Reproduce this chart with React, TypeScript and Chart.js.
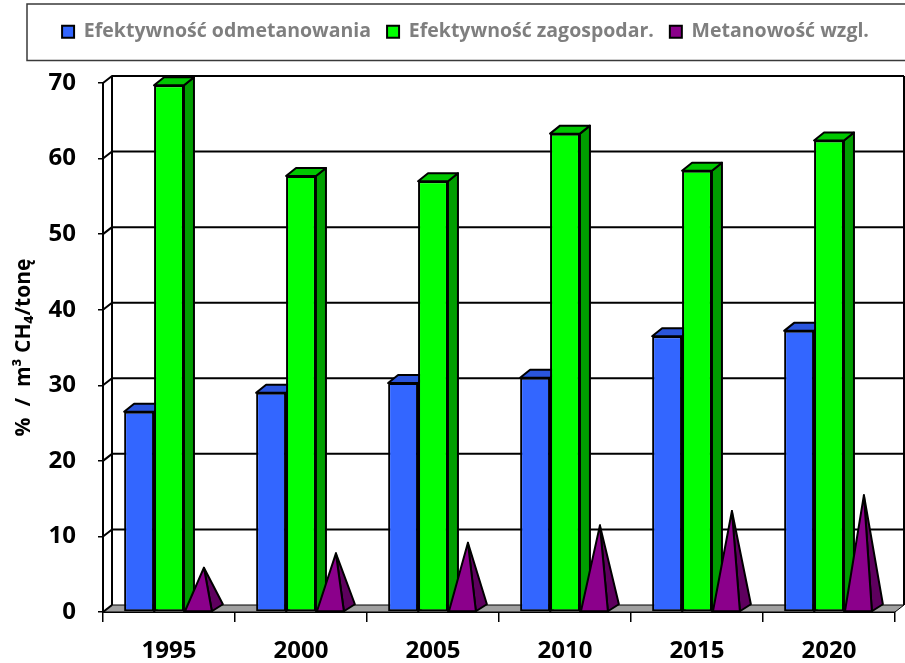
import React, { useEffect, useRef } from 'react';
import { Chart, registerables } from 'chart.js';

Chart.register(...registerables);

// ---- data ----
const years = ['1995', '2000', '2005', '2010', '2015', '2020'];
const seriesNames = ['Efektywność odmetanowania', 'Efektywność zagospodar.', 'Metanowość wzgl.'];
const efOdmetanowania = [26.5, 29.0, 30.3, 31.0, 36.5, 37.2];
const efZagospodar = [69.7, 57.7, 57.0, 63.3, 58.4, 62.4];
const metanowosc = [5.4, 7.3, 8.7, 11.0, 12.9, 15.0];
const yMin = 0;
const yMax = 70;
const yStep = 10;
const yTitle = '%  /  m³ CH₄/tonę';

const FONT = '"Open Sans", "DejaVu Sans", sans-serif';
const NARROW = '"Liberation Sans Narrow", "Open Sans", "DejaVu Sans", sans-serif';

// depth offsets of the pseudo 3-D look
const BAR_DX = 10, BAR_DY = -8;
const WALL_DX = 9, WALL_DY = -7;
const PYR_DX = 11, PYR_DY = -7;

const faceColors = [
  { top: '#2a55dd', side: '#2244b8' },
  { top: '#00c800', side: '#009e00' },
  { front: '#8b008b', side: '#5e005e' },
];

function poly(ctx: CanvasRenderingContext2D, pts: number[][], fill: string) {
  ctx.beginPath();
  ctx.moveTo(pts[0][0], pts[0][1]);
  for (let i = 1; i < pts.length; i++) ctx.lineTo(pts[i][0], pts[i][1]);
  ctx.closePath();
  ctx.fillStyle = fill;
  ctx.fill();
  ctx.stroke();
}

const threeDPlugin = {
  id: 'threeD',
  beforeDatasetsDraw(chart: any) {
    const { ctx, chartArea: a, scales } = chart;
    const y = scales.y;
    ctx.save();
    ctx.strokeStyle = '#000';
    ctx.lineJoin = 'round';
    // floor
    ctx.lineWidth = 1;
    poly(ctx, [
      [a.left, a.bottom], [a.right, a.bottom],
      [a.right + WALL_DX, a.bottom + WALL_DY], [a.left + WALL_DX, a.bottom + WALL_DY],
    ], '#a0a0a0');
    // back wall grid lines and left wall connectors
    ctx.lineWidth = 2;
    y.ticks.forEach((t: any) => {
      const py = y.getPixelForValue(t.value);
      ctx.beginPath();
      ctx.moveTo(a.left, py);
      ctx.lineTo(a.left + WALL_DX, py + WALL_DY);
      if (t.value !== yMin) ctx.lineTo(a.right + WALL_DX, py + WALL_DY);
      ctx.stroke();
    });
    ctx.beginPath();
    ctx.moveTo(a.left + WALL_DX, a.bottom + WALL_DY);
    ctx.lineTo(a.left + WALL_DX, a.top + WALL_DY);
    ctx.stroke();
    ctx.beginPath();
    ctx.moveTo(a.right + WALL_DX, a.bottom + WALL_DY);
    ctx.lineTo(a.right + WALL_DX, a.top + WALL_DY);
    ctx.stroke();

    // datasets, drawn in series order so that the nearer faces overlap correctly
    for (let idx = 0; idx < 2; idx++) {
      const meta = chart.getDatasetMeta(idx);
      if (!meta || meta.hidden) continue;
      const c = faceColors[idx];
      meta.data.forEach((el: any) => {
        const { x, y: top, base, width } = el.getProps(['x', 'y', 'base', 'width'], true);
        const l = x - width / 2, r = x + width / 2;
        ctx.strokeStyle = '#000';
        ctx.lineWidth = 2;
        ctx.lineJoin = 'round';
        poly(ctx, [[r, base], [r, top], [r + BAR_DX, top + BAR_DY], [r + BAR_DX, base + BAR_DY]], c.side as string);
        poly(ctx, [[l, top], [r, top], [r + BAR_DX, top + BAR_DY], [l + BAR_DX, top + BAR_DY]], c.top as string);
        el.draw(ctx);
      });
    }
    const pm = chart.getDatasetMeta(2);
    const pc = faceColors[2];
    pm.data.forEach((el: any) => {
      const { x, y: top, base, width } = el.getProps(['x', 'y', 'base', 'width'], true);
      const l = x - width / 2 + 1, r = x + width / 2 - 2;
      const apex = [(l + r) / 2 + PYR_DX / 2, top + PYR_DY / 2];
      ctx.strokeStyle = '#000';
      ctx.lineWidth = 2;
      ctx.lineJoin = 'round';
      poly(ctx, [[r, base], [r + PYR_DX, base + PYR_DY], apex], pc.side as string);
      poly(ctx, [[l, base], [r, base], apex], pc.front as string);
    });
    ctx.restore();
    return false;
  },
  afterDraw(chart: any) {
    const { ctx, legend } = chart;
    if (!legend) return;
    ctx.save();
    ctx.strokeStyle = '#3a3a3a';
    ctx.lineWidth = 1.5;
    const top = legend.top - 2;
    const bottom = legend.bottom + 9;
    const left = legend.left - 9;
    ctx.strokeRect(left, top, chart.width + 10 - left, bottom - top);
    ctx.restore();
  },
};

export default function App() {
  const ref = useRef<HTMLCanvasElement | null>(null);

  useEffect(() => {
    document.body.style.margin = '0';
    const canvas = ref.current;
    if (!canvas) return;
    const chart = new Chart(canvas, {
      type: 'bar',
      data: {
        labels: years,
        datasets: [
          {
            label: seriesNames[0], data: efOdmetanowania,
            backgroundColor: '#3366ff', borderColor: '#000', borderWidth: 2, borderSkipped: false,
          },
          {
            label: seriesNames[1], data: efZagospodar,
            backgroundColor: '#00ff00', borderColor: '#000', borderWidth: 2, borderSkipped: false,
          },
          {
            label: seriesNames[2], data: metanowosc,
            backgroundColor: '#8b008b', borderColor: '#000', borderWidth: 2, borderSkipped: false,
          },
        ],
      },
      options: {
        responsive: false,
        animation: false,
        devicePixelRatio: 1,
        layout: { padding: { left: 36, right: 10, top: 6, bottom: 0 } },
        datasets: { bar: { categoryPercentage: 0.68, barPercentage: 1.0 } },
        plugins: {
          tooltip: { enabled: false },
          legend: {
            position: 'top',
            labels: {
              boxWidth: 12, boxHeight: 12, padding: 16,
              color: '#7f7f7f',
              font: { family: FONT, size: 19.5, weight: 'bold' },
            },
          },
        },
        scales: {
          x: {
            type: 'category',
            position: 'bottom',
            grid: { display: true, offset: true, drawOnChartArea: false, drawTicks: true, tickLength: 10, color: '#000', lineWidth: 1.5 },
            border: { display: true, color: '#000', width: 2 },
            ticks: { color: '#000', padding: 15, font: { family: FONT, size: 24, weight: 'bold' } },
            afterFit: (s: any) => { s.height = 51; },
          },
          xTop: {
            type: 'category',
            position: 'top',
            display: true,
            grid: { display: false, drawTicks: false },
            border: { display: false },
            ticks: { display: false },
            afterFit: (s: any) => { s.height = 31.5; },
          },
          y: {
            type: 'linear',
            min: yMin, max: yMax,
            grid: { display: true, drawOnChartArea: false, drawTicks: true, tickLength: 5, color: '#000', lineWidth: 1.5 },
            border: { display: true, color: '#000', width: 2 },
            ticks: { stepSize: yStep, color: '#000', padding: 22, font: { family: FONT, size: 24, weight: 'bold' } },
            title: {
              display: true, text: yTitle, color: '#000',
              font: { family: NARROW, size: 21, weight: 'bold' },
              padding: { top: -25, bottom: 0 },
            },
            afterFit: (s: any) => { s.width = 67; },
          },
        },
      },
      plugins: [threeDPlugin],
    } as any);
    return () => chart.destroy();
  }, []);

  return (
    <div style={{ position: 'fixed', left: 0, top: 0, width: 905, height: 663, background: '#fff' }}>
      <canvas ref={ref} width={905} height={663} style={{ display: 'block' }} />
    </div>
  );
}
